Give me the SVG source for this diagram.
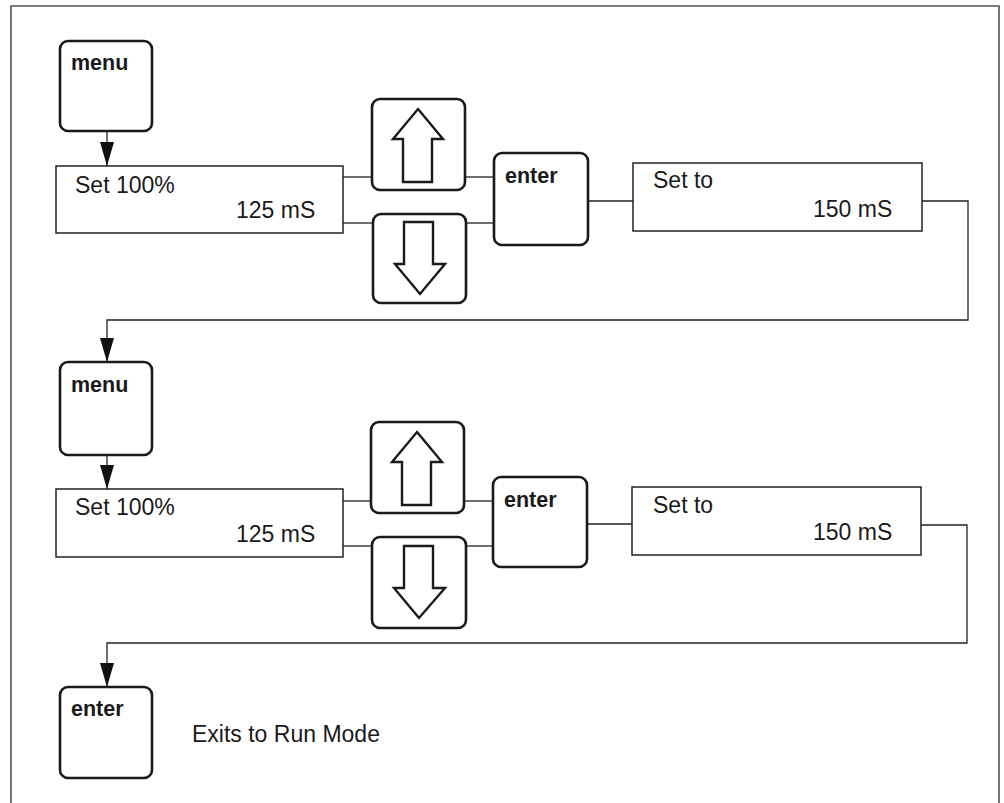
<svg xmlns="http://www.w3.org/2000/svg" width="1004" height="803" viewBox="0 0 1004 803">
<defs>
<style>
.key{fill:#fff;stroke:#1a1a1a;stroke-width:2.6}
.disp{fill:#fff;stroke:#222;stroke-width:1.5}
.con{fill:none;stroke:#222;stroke-width:1.3}
.arr{fill:#fff;stroke:#1a1a1a;stroke-width:2.4;stroke-linejoin:miter}
.kt{font-family:"Liberation Sans",Arial,sans-serif;font-weight:bold;font-size:21.5px;fill:#1a1a1a}
.dt{font-family:"Liberation Sans",Arial,sans-serif;font-size:23px;fill:#1a1a1a}
</style>
<marker id="ah" markerUnits="userSpaceOnUse" markerWidth="24" markerHeight="14" refX="24" refY="7" orient="auto">
<path d="M0,0 L24,7 L0,14 Z" fill="#111"/>
</marker>
</defs>
<rect width="1004" height="803" fill="#fff"/>
<path d="M11,803 V6 H999 V803" fill="none" stroke="#555" stroke-width="1.6"/>

<g id="connectors">
<line class="con" x1="107" y1="131" x2="107" y2="166" marker-end="url(#ah)"/>
<line class="con" x1="343" y1="177" x2="372" y2="177"/>
<line class="con" x1="343" y1="223" x2="373" y2="223"/>
<line class="con" x1="465" y1="177" x2="494" y2="177"/>
<line class="con" x1="466" y1="223" x2="494" y2="223"/>
<line class="con" x1="588" y1="201" x2="633" y2="201"/>
<path class="con" d="M922,201 H968 V320 H107 V362" marker-end="url(#ah)"/>
<line class="con" x1="107" y1="455" x2="107" y2="489" marker-end="url(#ah)"/>
<line class="con" x1="343" y1="501" x2="371" y2="501"/>
<line class="con" x1="343" y1="546" x2="372" y2="546"/>
<line class="con" x1="464" y1="501" x2="493" y2="501"/>
<line class="con" x1="466" y1="546" x2="493" y2="546"/>
<line class="con" x1="587" y1="524" x2="632" y2="524"/>
<path class="con" d="M921,525 H967 V643 H107 V687" marker-end="url(#ah)"/>
</g>

<g id="menu1">
<rect class="key" x="60" y="41" width="92" height="90" rx="8"/>
<text class="kt" x="71" y="70">menu</text>
</g>
<g id="display1">
<rect class="disp" x="56" y="166" width="287" height="67"/>
<text class="dt" x="75" y="193">Set 100%</text>
<text class="dt" x="236" y="218">125 mS</text>
</g>
<g id="up1">
<rect class="key" x="372" y="99" width="93" height="91" rx="8"/>
<path class="arr" d="M418,109 L443,139 L432,139 L432,182 L403,182 L403,139 L393,139 Z"/>
</g>
<g id="down1">
<rect class="key" x="373" y="214" width="93" height="89" rx="8"/>
<path class="arr" d="M404,222 L433,222 L433,264 L445,264 L420,294 L395,264 L404,264 Z"/>
</g>
<g id="enter1">
<rect class="key" x="494" y="153" width="94" height="92" rx="8"/>
<text class="kt" x="505" y="183">enter</text>
</g>
<g id="setto1">
<rect class="disp" x="633" y="163" width="289" height="68"/>
<text class="dt" x="653" y="188">Set to</text>
<text class="dt" x="813" y="217">150 mS</text>
</g>

<g id="menu2">
<rect class="key" x="60" y="362" width="92" height="93" rx="8"/>
<text class="kt" x="71" y="392">menu</text>
</g>
<g id="display2">
<rect class="disp" x="56" y="489" width="287" height="68"/>
<text class="dt" x="75" y="515">Set 100%</text>
<text class="dt" x="236" y="542">125 mS</text>
</g>
<g id="up2">
<rect class="key" x="371" y="422" width="93" height="91" rx="8"/>
<path class="arr" d="M417,432 L442,462 L431,462 L431,505 L402,505 L402,462 L392,462 Z"/>
</g>
<g id="down2">
<rect class="key" x="372" y="537" width="94" height="91" rx="8"/>
<path class="arr" d="M404,546 L433,546 L433,588 L445,588 L419,618 L394,588 L404,588 Z"/>
</g>
<g id="enter2">
<rect class="key" x="493" y="477" width="94" height="90" rx="8"/>
<text class="kt" x="504" y="507">enter</text>
</g>
<g id="setto2">
<rect class="disp" x="632" y="487" width="289" height="68"/>
<text class="dt" x="653" y="513">Set to</text>
<text class="dt" x="813" y="540">150 mS</text>
</g>

<g id="enter3">
<rect class="key" x="60" y="687" width="92" height="91" rx="8"/>
<text class="kt" x="71" y="716">enter</text>
</g>
<g id="exit-label">
<text class="dt" x="192" y="742">Exits to Run Mode</text>
</g>
</svg>
